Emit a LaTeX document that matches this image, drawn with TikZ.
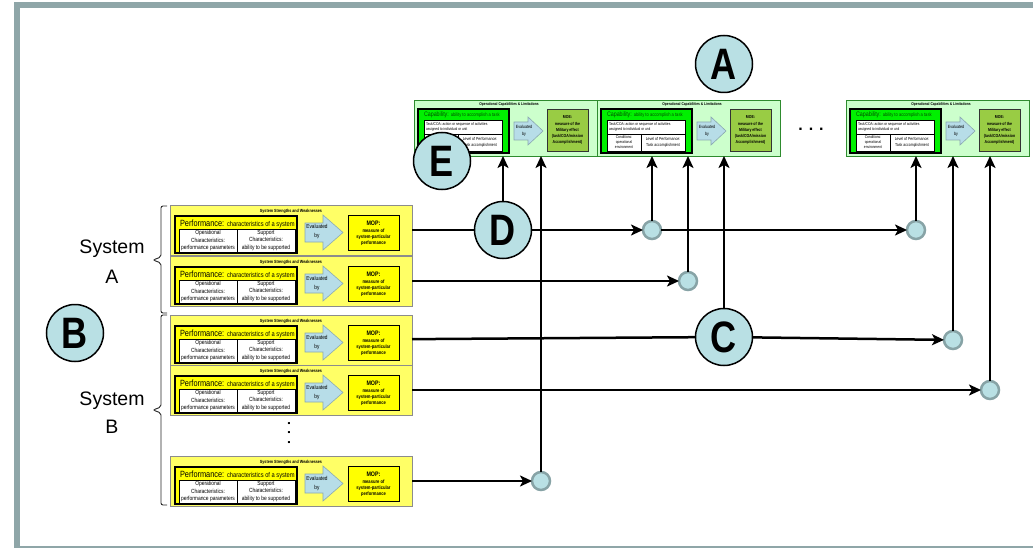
\documentclass[tikz,border=0pt]{standalone}
\usepackage{fontspec}
\setmainfont{Liberation Sans}
\newfontfamily\nar[FakeStretch=0.82]{Liberation Sans}
\usetikzlibrary{arrows.meta}
\definecolor{framecol}{HTML}{8FA6A8}
\definecolor{cblue}{HTML}{B9E0E4}
\definecolor{jring}{HTML}{87A3A6}
\definecolor{rowfill}{HTML}{FFFF66}
\definecolor{yel}{HTML}{FFFF00}
\definecolor{lgreen}{HTML}{CCFFCC}
\definecolor{dgreen}{HTML}{2E8B2E}
\definecolor{bgreen}{HTML}{00F000}
\definecolor{moe}{HTML}{99CC44}
\definecolor{capt}{HTML}{005000}
\definecolor{arrfill}{HTML}{B7DDE8}
\definecolor{arrdraw}{HTML}{8AA8B0}
\newcommand\fsz[2]{\fontsize{#1}{#2}\selectfont}
\tikzset{
  every node/.style={inner sep=0pt, outer sep=0pt},
  rowbox/.style={draw=black!45, fill=rowfill, line width=0.8, minimum width=242, minimum height=50},
  topbox/.style={draw=dgreen, fill=lgreen, line width=0.8, minimum width=183, minimum height=56},
  bigc/.style={circle, draw=black, line width=1.5, fill=cblue, minimum size=57, font=\nar\bfseries\fsz{44}{44}},
  junc/.style={circle, draw=jring, line width=2.5, fill=cblue, minimum size=18},
  conn/.style={line width=2.5, black, -{Stealth[length=12pt,width=11pt,inset=3pt]}},
  plainline/.style={line width=2.5, black},
  bracket/.style={line width=0.9, black!85, rounded corners=2pt},
  sysl/.style={font=\fsz{19.5}{22}, anchor=base},
  arrowshape/.style={draw=arrdraw, line width=0.6, fill=arrfill},
}
\newcommand\SysRow[2]{%
  \node[rowbox] (#1) at (291,#2+25) {};
  \node[font=\nar\bfseries\fsz{4.5}{5}] at (291,#2+6) {System Strengths and Weaknesses};
  \draw[black, line width=1.2, fill=yel] (175,#2+11) rectangle (297,#2+48);
  \node[anchor=base west, font=\nar] at (180,#2+21.5) {\fsz{9}{9}Performance: \fsz{7}{7}characteristics of a system};
  \draw[black, line width=0.6, fill=white] (179,#2+24) rectangle (295,#2+47);
  \draw[black, line width=0.6] (237,#2+24) -- (237,#2+47);
  \node[align=center, font=\nar\fsz{6}{7.6}] at (208,#2+35.5) {Operational\\Characteristics:\\performance parameters};
  \node[align=center, font=\nar\fsz{6}{7.6}] at (266,#2+35.5) {Support\\Characteristics:\\ability to be supported};
  \draw[arrowshape] (305,#2+18) -- (323,#2+18) -- (323,#2+10) -- (343,#2+27.5) -- (323,#2+45) -- (323,#2+37) -- (305,#2+37) -- cycle;
  \node[align=center, font=\nar\fsz{5.8}{9}] at (317,#2+27) {Evaluated\\by};
  \draw[black, line width=0.9, fill=yel] (348,#2+10) rectangle (399,#2+45);
  \node[align=center, font=\nar\bfseries\fsz{5}{5.6}] at (373.5,#2+28) {{\fsz{6.5}{7}MOP:}\\[2pt]measure of\\system-particular\\performance};
}
\newcommand\TopUnit[2]{%
  \node[topbox] (#1) at (#2+91.5,128) {};
  \node[font=\nar\bfseries\fsz{4}{4}] at (#2+95,104) {Operational Capabilities \& Limitations};
  \draw[black, line width=1.2, fill=bgreen] (#2+4,109) rectangle (#2+95,153);
  \node[anchor=base west, font=\nar, text=capt] at (#2+10,117) {\fsz{6.5}{6.5}Capability: \fsz{5}{5}ability to accomplish a task};
  \draw[black, line width=0.5, fill=white] (#2+10,120) rectangle (#2+88,134);
  \draw[black, line width=0.5, fill=white] (#2+10,134) rectangle (#2+88,151);
  \draw[black, line width=0.5] (#2+44,134) -- (#2+44,151);
  \node[anchor=west, align=left, font=\nar\fsz{4}{5}] at (#2+12,127) {Task/COA: action or sequence of activities\\assigned to individual or unit};
  \node[align=center, font=\nar\fsz{4}{5}] at (#2+27,142.5) {Conditions:\\operational\\environment};
  \node[align=center, font=\nar\fsz{4.3}{6}] at (#2+66,142.5) {Level of Performance:\\Task accomplishment};
  \draw[arrowshape] (#2+100,122) -- (#2+114,122) -- (#2+114,117) -- (#2+129,131) -- (#2+114,145) -- (#2+114,140) -- (#2+100,140) -- cycle;
  \node[align=center, font=\nar\fsz{4.5}{7}] at (#2+110,131) {Evaluated\\by};
  \draw[black!80, line width=0.9, fill=moe] (#2+133,109) rectangle (#2+174,151);
  \node[align=center, font=\nar\bfseries\fsz{4.3}{6}] at (#2+153.5,130) {MOE:\\[1pt]measure of the\\Military effect\\(task/COA/mission\\Accomplishment)};
}
\begin{document}
\begin{tikzpicture}[x=1pt,y=-1pt]
\useasboundingbox (0,0) rectangle (1033,548);
\draw[framecol, line width=6] (17,5.5) rectangle (1045,549);

\TopUnit{T1}{414}
\TopUnit{T2}{597}
\TopUnit{T3}{846}
\node[font=\bfseries\fsz{16}{16}] (dotsH) at (811,129) {. . .};

\SysRow{R1}{205}
\SysRow{R2}{256}
\SysRow{R3}{315}
\SysRow{R4}{365}
\SysRow{R5}{456}
\node[font=\bfseries\fsz{14}{14}] (dotsV) at (289,433) {\rotatebox{90}{. . .}};

% brackets and system labels
\draw[bracket] (167,206) -- (161,206) -- (161,257) -- (153,260) -- (161,263) -- (161,313) -- (167,313);
\draw[bracket] (167,315) -- (161,315) -- (161,407) -- (153,410) -- (161,413) -- (161,505) -- (167,505);
\node[sysl] (sysA1) at (112,253) {System};
\node[sysl] (sysA2) at (112,283) {A};
\node[sysl] (sysB1) at (112,405) {System};
\node[sysl] (sysB2) at (112,433) {B};

% junctions
\node[junc] (J1) at (652,230) {};
\node[junc] (J2) at (688,281) {};
\node[junc] (J3) at (916,230) {};
\node[junc] (J4) at (953,340) {};
\node[junc] (J5) at (990,390) {};
\node[junc] (J6) at (541,481) {};

% lettered circles
\node[bigc] (A) at (724,64) {A};
\node[bigc] (B) at (75,333) {B};
\node[bigc] (C) at (724,337) {C};
\node[bigc] (D) at (503,230) {D};
\node[bigc] (E) at (442,161) {E};

% horizontal connectors
\draw[plainline] (R1) -- (D);
\draw[conn] (D) -- (J1);
\draw[conn] (J1) -- (J3);
\draw[conn] (R2) -- (J2);
\draw[plainline] (R3) -- (C);
\draw[conn] (C) -- (J4);
\draw[conn] (R4) -- (J5);
\draw[conn] (R5) -- (J6);

% vertical connectors
\draw[conn] (D) -- (D |- T1.south);
\draw[conn] (J6) -- (J6 |- T1.south);
\draw[conn] (J1) -- (J1 |- T2.south);
\draw[conn] (J2) -- (J2 |- T2.south);
\draw[conn] (C) -- (C |- T2.south);
\draw[conn] (J3) -- (J3 |- T3.south);
\draw[conn] (J4) -- (J4 |- T3.south);
\draw[conn] (J5) -- (J5 |- T3.south);
\end{tikzpicture}
\end{document}
